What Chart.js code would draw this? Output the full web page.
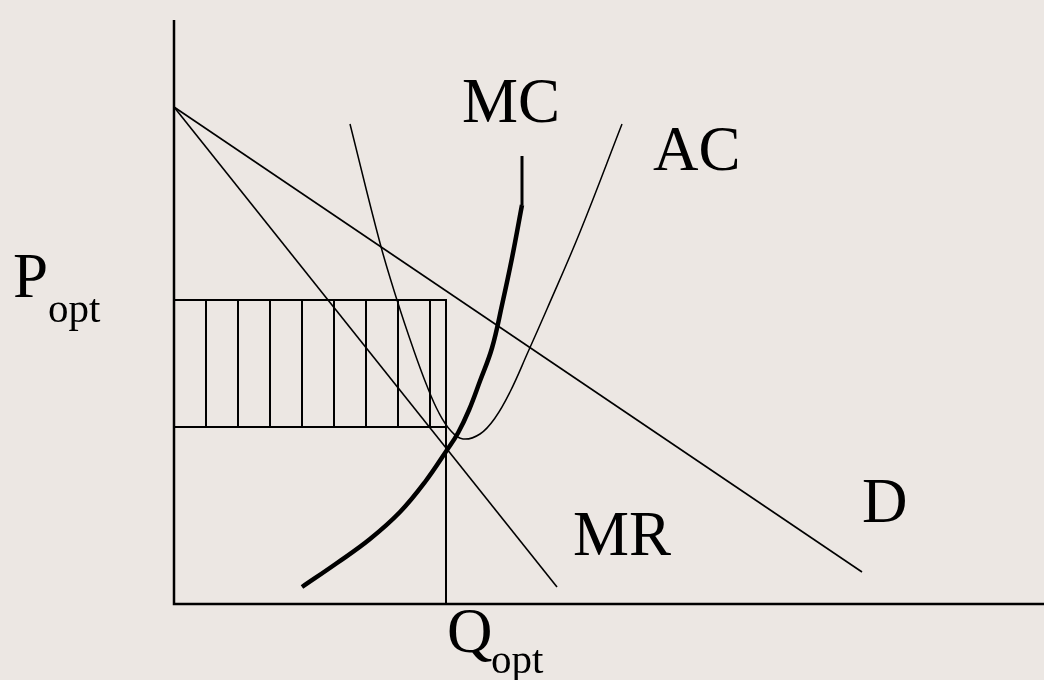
<!DOCTYPE html>
<html>
<head>
<meta charset="utf-8">
<script src="https://cdn.jsdelivr.net/npm/chart.js@4/dist/chart.umd.min.js"></script>
<style>
  html, body { margin: 0; padding: 0; background: #ece7e3; }
  #wrap { width: 1044px; height: 680px; }
</style>
</head>
<body>
<div id="wrap"><canvas id="chart" width="1044" height="680"></canvas></div>
<script>
// quantities / prices
const qOpt = 27.2;
const pOpt = 30.4;
const acAtQ = 17.7;
const hatchX = [3.2, 6.4, 9.6, 12.8, 16.0, 19.2, 22.4, 25.6];

const demandX = [0, 68.8];
const demandY = [49.7, 3.2];

const mrX = [0, 38.3];
const mrY = [49.7, 1.7];

const mcX = [12.8, 16.3, 19.6, 22.6, 25.1, 27.3, 28.4, 29.5, 30.6, 31.8, 32.8, 33.8, 34.8];
const mcY = [1.7, 4.1, 6.5, 9.2, 12.2, 15.4, 17.1, 19.4, 22.3, 25.6, 29.9, 34.6, 39.9];
const mcCapX = [34.8, 34.8];
const mcCapY = [39.9, 44.8];

const acX = [17.6, 20.6, 22.3, 23.9, 25.3, 26.5, 27.7, 28.9, 30.6, 32.1, 33.6, 35.4, 37.3, 40.6, 44.8];
const acY = [48.0, 36.1, 30.4, 25.6, 21.8, 19.1, 17.3, 16.5, 17.0, 18.6, 21.2, 25.2, 29.5, 37.2, 48.0];

const xMax = 87;
const yMax = 58.4;

function pts(xs, ys) {
  return xs.map((x, i) => ({ x: x, y: ys[i] }));
}

// hatch lines, broken by gaps
const hatchPts = [];
hatchX.forEach(x => {
  hatchPts.push({ x: x, y: acAtQ }, { x: x, y: pOpt }, { x: x, y: null });
});
// rectangle outline + Q_opt drop line
const boxPts = [
  { x: 0, y: pOpt }, { x: qOpt, y: pOpt }, { x: qOpt, y: 0 }, { x: qOpt, y: null },
  { x: 0, y: acAtQ }, { x: qOpt, y: acAtQ }
];
const axisPts = [{ x: 0, y: yMax }, { x: 0, y: 0 }, { x: xMax, y: 0 }];

const textLabels = [
  { text: "MC", x: 28.8, y: 48.2 },
  { text: "AC", x: 47.9, y: 43.4 },
  { text: "MR", x: 39.9, y: 4.9 },
  { text: "D", x: 68.8, y: 8.2 },
  { text: "P", x: -16.1, y: 30.7, sub: "opt", subX: -12.6, subY: 28.2 },
  { text: "Q", x: 27.3, y: -4.8, sub: "opt", subX: 31.7, subY: -6.9 }
];

const bgPlugin = {
  id: "bg",
  beforeDraw(chart) {
    const c = chart.ctx;
    c.save();
    c.fillStyle = "#ece7e3";
    c.fillRect(0, 0, chart.width, chart.height);
    c.restore();
  }
};

const labelPlugin = {
  id: "labels",
  afterDraw(chart) {
    const c = chart.ctx;
    const xs = chart.scales.x, ys = chart.scales.y;
    c.save();
    c.fillStyle = "#000";
    c.textAlign = "left";
    c.textBaseline = "alphabetic";
    textLabels.forEach(l => {
      c.font = '63px "Liberation Serif", "Times New Roman", serif';
      c.fillText(l.text, xs.getPixelForValue(l.x), ys.getPixelForValue(l.y));
      if (l.sub) {
        c.font = '41px "Liberation Serif", "Times New Roman", serif';
        c.fillText(l.sub, xs.getPixelForValue(l.subX), ys.getPixelForValue(l.subY));
      }
    });
    c.restore();
  }
};

function line(data, width, extra) {
  return Object.assign({
    data: data,
    borderColor: "#000",
    borderWidth: width,
    pointRadius: 0,
    fill: false,
    tension: 0,
    clip: false,
    spanGaps: false
  }, extra || {});
}

new Chart(document.getElementById("chart").getContext("2d"), {
  type: "line",
  data: {
    datasets: [
      line(axisPts, 2.5),
      line(boxPts, 2),
      line(hatchPts, 2),
      line(pts(demandX, demandY), 1.6),
      line(pts(mrX, mrY), 1.6),
      line(pts(acX, acY), 1.5, { tension: 0.4 }),
      line(pts(mcX, mcY), 4.5, { tension: 0.4, borderCapStyle: "butt" }),
      line(pts(mcCapX, mcCapY), 3)
    ]
  },
  options: {
    responsive: false,
    animation: false,
    layout: { padding: { left: 174, right: 0, top: 20, bottom: 76 } },
    plugins: { legend: { display: false }, tooltip: { enabled: false } },
    scales: {
      x: { type: "linear", min: 0, max: xMax, display: false },
      y: { type: "linear", min: 0, max: yMax, display: false }
    }
  },
  plugins: [bgPlugin, labelPlugin]
});
</script>
</body>
</html>
